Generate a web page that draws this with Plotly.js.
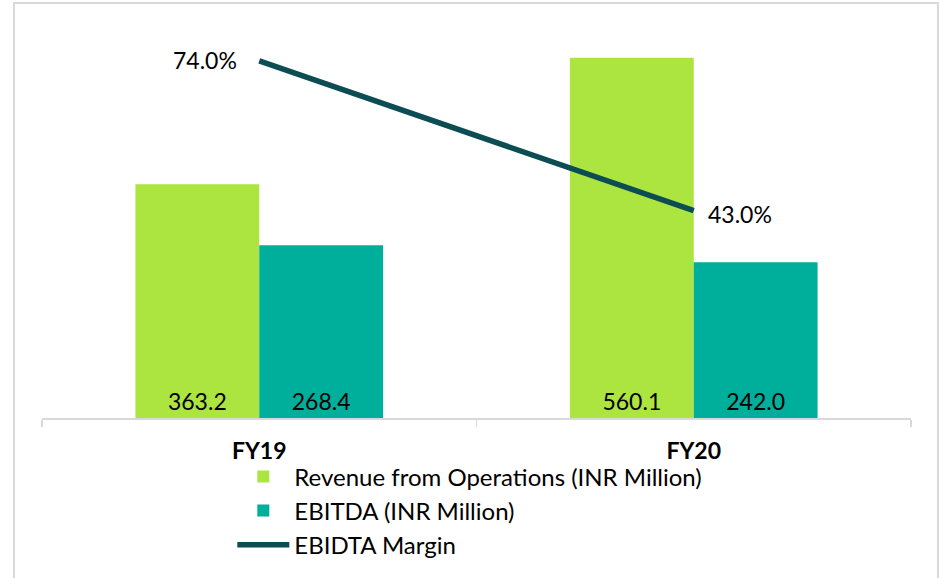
<!DOCTYPE html>
<html><head><meta charset="utf-8">
<script src="https://cdn.plot.ly/plotly-3.0.1.min.js"></script>
<style>html,body{margin:0;padding:0;background:#fff;}#chart{width:940px;height:578px;}</style>
</head><body><div id="chart"></div>
<script>
const categories = ['FY19', 'FY20'];
const revenue = [363.2, 560.1];
const ebitda = [268.4, 242.0];
const margin = [0.74, 0.43];
const marginLabels = ['74.0%', '43.0%'];
const seriesNames = ['Revenue from Operations (INR Million)', 'EBITDA (INR Million)', 'EBIDTA Margin'];

const FONT = 'Lato, "Open Sans", sans-serif';

const traces = [
  {type:'bar', x:categories, y:revenue, name:seriesNames[0], legendgroup:'a',
   marker:{color:'#ADE540'}, text:revenue.map(v=>v.toFixed(1)), textposition:'inside',
   insidetextanchor:'start', textfont:{color:'#000', size:23, family:FONT}, hoverinfo:'skip'},
  {type:'bar', x:categories, y:ebitda, name:seriesNames[1], legendgroup:'b',
   marker:{color:'#00AE9C'}, text:ebitda.map(v=>v.toFixed(1)), textposition:'inside',
   insidetextanchor:'start', textfont:{color:'#000', size:23, family:FONT}, hoverinfo:'skip'},
  {type:'scatter', mode:'lines', x:categories, y:margin, yaxis:'y2', name:seriesNames[2], legendgroup:'c',
   line:{color:'#0B4D52', width:5.5}, hoverinfo:'skip'}
];

const annotations = categories.map((c,i)=>({
  x:c, y:margin[i], xref:'x', yref:'y2', text:marginLabels[i], showarrow:false,
  xanchor: i===0 ? 'right' : 'left', yanchor:'middle', xshift: i===0 ? -20 : 12, yshift: i===0 ? 1 : -3,
  font:{size:23, color:'#000', family:FONT}
}));

const layout = {
  width:940, height:578,
  margin:{l:42, r:29, t:32, b:160, autoexpand:false},
  paper_bgcolor:'#fff', plot_bgcolor:'#fff',
  font:{family:FONT, color:'#000'},
  barmode:'group', bargap:0.43, bargroupgap:0,
  showlegend:true,
  legend:{orientation:'v', x:0.219, xanchor:'left', y:-0.094, yanchor:'top',
          font:{size:24, family:FONT, color:'#000'}, tracegroupgap:0, itemwidth:52, bgcolor:'rgba(0,0,0,0)'},
  xaxis:{type:'category', range:[-0.5,1.5], showline:true, linecolor:'#D9D9D9', linewidth:1.5,
         ticks:'outside', tickson:'boundaries', ticklen:7, tickcolor:'#D9D9D9', tickwidth:1.5,
         tickfont:{size:23, family:FONT, color:'#000', weight:'bold'}, ticklabelstandoff:12,
         showgrid:false, zeroline:false, fixedrange:true},
  yaxis:{range:[0,600], visible:false, showgrid:false, zeroline:false, fixedrange:true},
  yaxis2:{range:[0,0.8], overlaying:'y', side:'right', visible:false, showgrid:false, zeroline:false, fixedrange:true},
  annotations: annotations,
  shapes:[{type:'rect', xref:'paper', yref:'paper', x0:-0.0322, x1:1.031, y0:-0.6, y1:1.075,
           line:{color:'#D9D9D9', width:2}, fillcolor:'rgba(0,0,0,0)', layer:'below'}]
};

Plotly.newPlot('chart', traces, layout, {displayModeBar:false, staticPlot:true});
</script></body></html>
